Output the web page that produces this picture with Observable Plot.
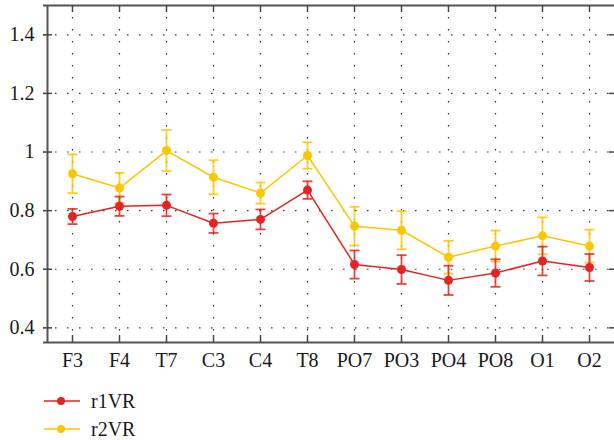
<!DOCTYPE html>
<html><head><meta charset="utf-8">
<script src="https://cdn.jsdelivr.net/npm/d3@7"></script>
<script src="https://cdn.jsdelivr.net/npm/@observablehq/plot@0.6"></script>
<style>
body{margin:0;overflow:hidden;background:#fff;font-family:"Liberation Serif","DejaVu Serif",serif;}
#wrap{position:relative;width:614px;height:440px;}
#chart svg text{font-family:"Liberation Serif","DejaVu Serif",serif !important;font-size:20px !important;}
.leg{position:absolute;left:44px;height:20px;line-height:20px;display:flex;align-items:center;font-size:20px;color:#1a1a1a;}
.leg svg{margin-right:11px;}
</style></head><body><div id="wrap"><div id="chart"></div><div id="legend"></div></div>
<script>
const electrodes = ["F3","F4","T7","C3","C4","T8","PO7","PO3","PO4","PO8","O1","O2"];
const r1VR  = [0.780,0.815,0.818,0.757,0.770,0.870,0.616,0.599,0.562,0.587,0.628,0.606];
const r1Err = [0.026,0.033,0.037,0.033,0.034,0.030,0.048,0.049,0.050,0.047,0.049,0.046];
const r2VR  = [0.926,0.877,1.005,0.914,0.860,0.988,0.747,0.733,0.641,0.679,0.714,0.679];
const r2Err = [0.066,0.052,0.070,0.058,0.036,0.045,0.066,0.065,0.056,0.053,0.063,0.056];
const yTicks = [0.4,0.6,0.8,1,1.2,1.4];
const seriesNames = ["r2VR","r1VR"];
const seriesColors = {r1VR:"#e42421", r2VR:"#fcc600"};

const rows = [];
const vals = {r1VR, r2VR}, errs = {r1VR:r1Err, r2VR:r2Err};
for (const s of seriesNames) electrodes.forEach((e,i)=>rows.push({s, e, v: vals[s][i], lo: vals[s][i]-errs[s][i], hi: vals[s][i]+errs[s][i]}));

const capSymbol = {draw(ctx){ ctx.moveTo(-5,0); ctx.lineTo(5,0); }};

const W = 614, H = 370, ML = 43, MT = 5, MB = 28;
const FONT = "Liberation Serif, DejaVu Serif, serif";
const dotted = {stroke:"#333", strokeWidth:1.2, strokeDasharray:"1.5,10.5"};
const frameStyle = {stroke:"#555", strokeWidth:2};
const marks = [
  Plot.ruleY(yTicks, {y: d=>d, ...dotted}),
  Plot.ruleX(electrodes, {x: d=>d, ...dotted}),
  Plot.ruleY([0.35], frameStyle),
  Plot.ruleY([1.5], frameStyle),
  Plot.ruleX([electrodes[0]], {x: d=>d, dx:-25, ...frameStyle}),
  Plot.tickY(yTicks, {y: d=>d, insetRight: W-ML-9, stroke:"#444", strokeWidth:1.5}),
  Plot.tickY(yTicks, {y: d=>d, insetLeft: W-ML-5, stroke:"#444", strokeWidth:1.5}),
  Plot.tickX(electrodes, {x: d=>d, insetTop: H-MB-MT-7, stroke:"#444", strokeWidth:1.5}),
  Plot.tickX(electrodes, {x: d=>d, insetBottom: H-MB-MT-7, stroke:"#444", strokeWidth:1.5}),
  Plot.axisY({ticks: yTicks, tickSize:0, tickPadding:9, tickFormat: d=>String(d), fontSize:20, fontFamily:FONT, fill:"#1a1a1a"}),
  Plot.axisX({tickSize:0, tickPadding:10, fontSize:20, fontFamily:FONT, fill:"#1a1a1a"})
];
for (const s of seriesNames) {
  const d = rows.filter(r=>r.s===s);
  const c = seriesColors[s];
  marks.push(
    Plot.ruleX(d, {x:"e", y1:"lo", y2:"hi", stroke:c, strokeWidth:1.8, strokeOpacity:0.85}),
    Plot.dot(d, {x:"e", y:"hi", symbol: capSymbol, stroke:c, strokeWidth:1.8, strokeOpacity:0.85}),
    Plot.dot(d, {x:"e", y:"lo", symbol: capSymbol, stroke:c, strokeWidth:1.8, strokeOpacity:0.85}),
    Plot.line(d, {x:"e", y:"v", stroke:c, strokeWidth:1.5}),
    Plot.dot(d, {x:"e", y:"v", r:4.5, fill:c})
  );
}
const chart = Plot.plot({
  width: W, height: H,
  marginLeft: ML, marginRight: 0, marginTop: MT, marginBottom: MB,
  insetLeft: 25, insetRight: 22,
  style: {fontFamily: FONT, fontSize:"20px", color:"#1a1a1a", background:"#fff", overflow:"visible"},
  x: {type:"point", domain: electrodes, padding: 0, label:null},
  y: {domain:[0.35,1.5], label:null},
  marks
});
document.getElementById("chart").appendChild(chart);

const legend = document.getElementById("legend");
["r1VR","r2VR"].forEach((s,i)=>{
  const row = document.createElement("div");
  row.className = "leg";
  row.style.top = (391 + i*28) + "px";
  row.innerHTML = `<svg width="36" height="20"><line x1="0" x2="36" y1="10" y2="10" stroke="${seriesColors[s]}" stroke-width="1.5"/><circle cx="17" cy="10" r="4" fill="${seriesColors[s]}"/></svg><span>${s}</span>`;
  legend.appendChild(row);
});
</script></body></html>
